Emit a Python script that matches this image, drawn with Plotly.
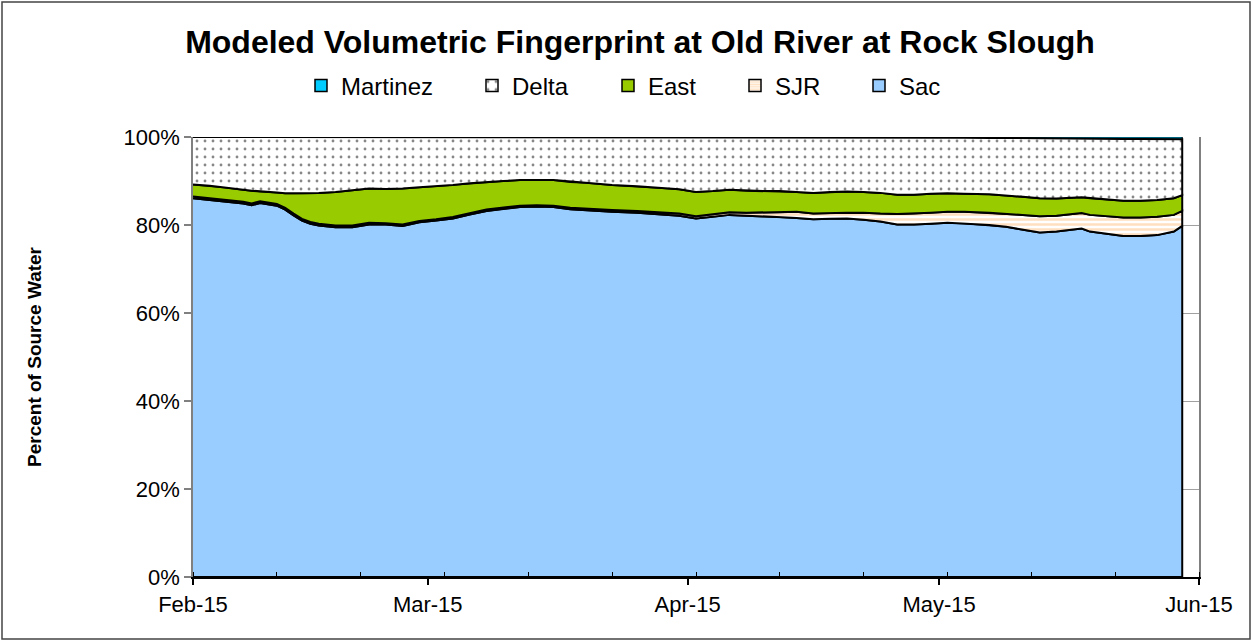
import numpy as np
import plotly.graph_objects as go

# ---- data ----
dates = [
    "2015-02-01", "2015-02-03", "2015-02-05", "2015-02-07", "2015-02-08", "2015-02-09",
    "2015-02-11", "2015-02-12", "2015-02-13", "2015-02-14", "2015-02-15", "2015-02-16",
    "2015-02-18", "2015-02-20", "2015-02-22", "2015-02-24", "2015-02-26", "2015-02-28",
    "2015-03-02", "2015-03-04", "2015-03-06", "2015-03-08", "2015-03-10", "2015-03-12",
    "2015-03-14", "2015-03-16", "2015-03-18", "2015-03-20", "2015-03-23", "2015-03-26",
    "2015-03-29", "2015-03-31", "2015-04-02", "2015-04-04", "2015-04-06", "2015-04-08",
    "2015-04-10", "2015-04-12", "2015-04-14", "2015-04-16", "2015-04-18", "2015-04-20",
    "2015-04-22", "2015-04-24", "2015-04-26", "2015-04-28", "2015-04-30", "2015-05-02",
    "2015-05-04", "2015-05-07", "2015-05-09", "2015-05-11", "2015-05-13", "2015-05-15",
    "2015-05-18", "2015-05-19", "2015-05-21", "2015-05-23", "2015-05-25", "2015-05-27",
    "2015-05-29", "2015-05-30",
]
sac = [86.1, 85.7, 85.3, 84.9, 84.5, 85.0, 84.4, 83.5, 82.2, 81.0, 80.3, 79.9,
       79.5, 79.5, 80.1, 80.1, 79.8, 80.6, 81.0, 81.5, 82.4, 83.2, 83.7, 84.1,
       84.2, 84.1, 83.6, 83.3, 83.0, 82.8, 82.4, 82.1, 81.5, 81.9, 82.3, 82.1,
       82.0, 81.8, 81.6, 81.3, 81.4, 81.5, 81.2, 80.8, 80.1, 80.1, 80.3, 80.5,
       80.4, 80.0, 79.6, 78.9, 78.3, 78.5, 79.2, 78.5, 78.0, 77.5, 77.5, 77.7,
       78.5, 79.8]
sjr = [0.4, 0.4, 0.4, 0.4, 0.4, 0.4, 0.4, 0.4, 0.4, 0.4, 0.4, 0.4,
       0.4, 0.4, 0.4, 0.3, 0.3, 0.3, 0.3, 0.3, 0.3, 0.3, 0.3, 0.3,
       0.3, 0.3, 0.3, 0.4, 0.4, 0.4, 0.5, 0.5, 0.5, 0.5, 0.6, 0.7,
       0.8, 1.1, 1.4, 1.3, 1.3, 1.3, 1.6, 1.8, 2.4, 2.5, 2.5, 2.5,
       2.6, 2.8, 2.9, 3.4, 3.7, 3.6, 3.5, 3.8, 4.0, 4.2, 4.2, 4.2,
       3.8, 3.4]
east = [2.7, 2.8, 2.8, 2.7, 2.9, 2.2, 2.6, 3.3, 4.6, 5.8, 6.5, 7.0,
        7.6, 8.0, 7.8, 7.8, 8.2, 7.7, 7.6, 7.3, 6.8, 6.3, 6.0, 5.8,
        5.7, 5.8, 5.9, 5.9, 5.7, 5.6, 5.5, 5.5, 5.5, 5.3, 5.1, 5.0,
        4.9, 4.8, 4.5, 4.7, 4.8, 4.8, 4.7, 4.7, 4.4, 4.3, 4.3, 4.2,
        4.1, 4.2, 4.2, 4.1, 4.1, 3.9, 3.6, 3.8, 3.8, 3.8, 3.8, 3.8,
        3.8, 3.6]
delta = [10.8, 11.1, 11.5, 12.0, 12.2, 12.4, 12.6, 12.8, 12.8, 12.8, 12.8, 12.7,
         12.5, 12.1, 11.7, 11.8, 11.7, 11.4, 11.1, 10.9, 10.5, 10.2, 10.0, 9.8,
         9.8, 9.8, 10.2, 10.4, 10.9, 11.2, 11.6, 11.9, 12.5, 12.3, 12.0, 12.2,
         12.3, 12.3, 12.5, 12.7, 12.5, 12.4, 12.5, 12.7, 13.1, 13.1, 12.85, 12.7,
         12.75, 12.8, 13.05, 13.3, 13.6, 13.65, 13.35, 13.5, 13.8, 14.05, 14.05, 13.8,
         13.4, 12.7]
martinez = [0.0] * 46 + [0.05, 0.1, 0.15, 0.2, 0.25, 0.3, 0.3, 0.35, 0.35, 0.4,
                         0.4, 0.45, 0.45, 0.5, 0.5, 0.5]

series_names = ["Sac", "SJR", "East", "Delta", "Martinez"]
legend_order = ["Martinez", "Delta", "East", "SJR", "Sac"]
y_ticks = [0, 20, 40, 60, 80, 100]
y_ticktext = ["0%", "20%", "40%", "60%", "80%", "100%"]

# ---- styles ----
FONT = "Liberation Sans, Arial, sans-serif"
styles = {
    "Sac": dict(fillcolor="#99CCFF"),
    "SJR": dict(fillcolor="#FFFFFF",
                fillpattern=dict(shape="-", fgcolor="#FFBF80", bgcolor="#FFFFFF",
                                 size=5, solidity=0.5)),
    "East": dict(fillcolor="#99CC00"),
    "Delta": dict(fillcolor="#FFFFFF",
                  fillpattern=dict(shape=".", fgcolor="#111111", bgcolor="#FFFFFF",
                                   size=8, solidity=0.1)),
    "Martinez": dict(fillcolor="#00CCFF"),
}
legend_marker = {
    "Sac": dict(color="#99CCFF"),
    "SJR": dict(color="#FFFFFF", pattern=dict(shape="-", fgcolor="#FFBF80",
                                             bgcolor="#FFFFFF", size=3, solidity=0.6)),
    "East": dict(color="#99CC00"),
    "Delta": dict(color="#FFFFFF", pattern=dict(shape=".", fgcolor="#111111",
                                               bgcolor="#FFFFFF", size=10, solidity=0.1)),
    "Martinez": dict(color="#00CCFF"),
}

values = {"Sac": sac, "SJR": sjr, "East": east, "Delta": delta, "Martinez": martinez}

fig = go.Figure()

# stacked layers drawn as closed polygons (Excel-style outlined areas)
cum = np.zeros(len(dates))
xs = list(dates) + list(dates[::-1])
bounds = {}
for name in series_names:
    lower = cum.copy()
    cum = cum + np.array(values[name], dtype=float)
    bounds[name] = (lower, cum.copy())

draw_order = ["Sac", "SJR", "East", "Martinez", "Delta"]
for name in draw_order:
    lower, upper = bounds[name]
    ys = list(upper) + list(lower[::-1])
    lw = 1 if name == "Martinez" else 2
    fig.add_trace(go.Scatter(
        x=xs, y=ys, mode="lines", fill="toself",
        line=dict(color="black", width=lw),
        showlegend=False, hoverinfo="skip", name=name,
        **styles[name],
    ))

# legend entries (square swatches; zero-height bars draw nothing on the plot)
legend_px = [301, 472, 608, 735, 859]
for i, name in enumerate(legend_order):
    key = "legend" if i == 0 else f"legend{i + 1}"
    fig.add_trace(go.Bar(
        x=[dates[0]], y=[0], name=name, legend=key, hoverinfo="skip",
        marker=dict(line=dict(color="black", width=1.5), **legend_marker[name]),
    ))

W, H = 1253, 642
L, R, T, B = 193, 54, 137, 65
pw, ph = W - L - R, H - T - B

legends = {}
for i, name in enumerate(legend_order):
    key = "legend" if i == 0 else f"legend{i + 1}"
    legends[key] = dict(
        orientation="h", x=(legend_px[i] - L) / pw, xanchor="left",
        y=(H - B - 86) / ph, yanchor="middle",
        font=dict(family=FONT, size=24, color="black"),
        bgcolor="rgba(0,0,0,0)", borderwidth=0,
    )

fig.update_layout(
    width=W, height=H,
    margin=dict(l=L, r=R, t=T, b=B, autoexpand=False),
    paper_bgcolor="white", plot_bgcolor="white",
    font=dict(family=FONT, size=22, color="black"),
    title=dict(text="<b>Modeled Volumetric Fingerprint at Old River at Rock Slough</b>",
               x=640 / W, xanchor="center", y=1 - 42 / H, yanchor="middle",
               font=dict(family=FONT, size=32, color="black")),
    showlegend=True,
    bargap=0.9,
    **legends,
)

fig.update_xaxes(
    type="date", range=["2015-02-01", "2015-06-01"],
    tick0="2015-02-01", dtick="M1", tickformat="%b-%y",
    ticks="outside", ticklen=6, tickwidth=1.5, tickcolor="black",
    showline=True, linecolor="black", linewidth=2,
    showgrid=False, zeroline=False,
    minor=dict(tick0="2015-02-01", dtick=10 * 86400000, ticks="inside",
               ticklen=5, tickwidth=1, tickcolor="black", showgrid=False),
    tickfont=dict(family=FONT, size=22, color="black"),
    ticklabelstandoff=1,
)
fig.update_yaxes(
    range=[0, 100], tickmode="array", tickvals=y_ticks, ticktext=y_ticktext,
    ticks="outside", ticklen=7, tickwidth=1.5, tickcolor="#808080",
    showline=True, linecolor="#808080", linewidth=1.5, mirror=True,
    showgrid=True, gridcolor="#A0A0A0", gridwidth=1, zeroline=False,
    tickfont=dict(family=FONT, size=22, color="black"),
    title=dict(text="<b>Percent of Source Water</b>", standoff=77,
               font=dict(family=FONT, size=19, color="black")),
)

# chart outer border
fig.add_shape(type="rect", xref="paper", yref="paper",
              x0=(2 - L) / pw, x1=(W - 3 - L) / pw,
              y0=(H - B - (H - 3)) / ph, y1=(H - B - 2) / ph,
              line=dict(color="#444444", width=1.5), fillcolor="rgba(0,0,0,0)",
              layer="above")

fig.write_html("out.html", config={"displayModeBar": False},
               post_script="document.body.style.margin='0';document.body.style.overflow='hidden';")
